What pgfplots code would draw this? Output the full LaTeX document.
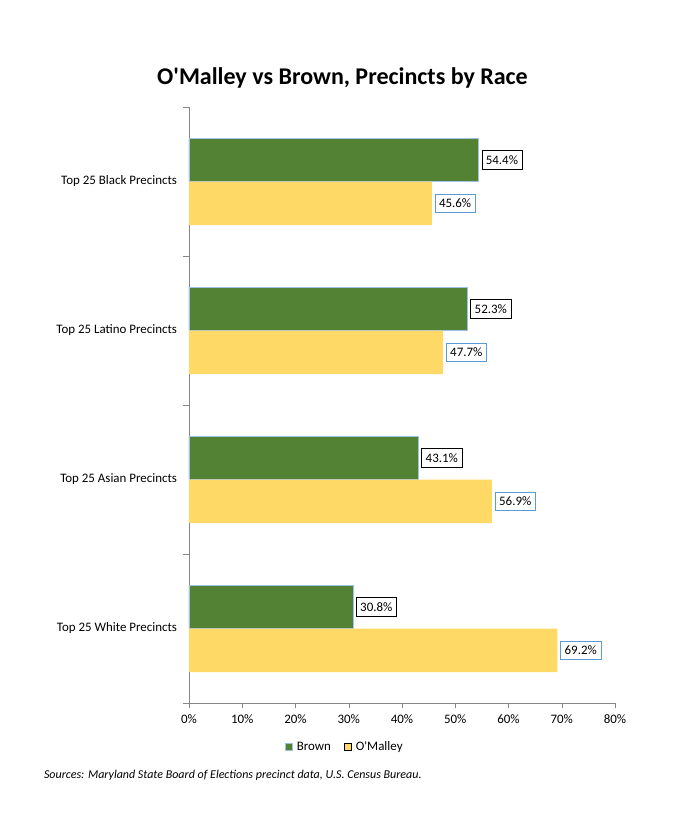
\documentclass[border=0pt]{standalone}
\usepackage{pgfplots}
\pgfplotsset{compat=1.18}
\usepackage{fontspec}
\setmainfont{Carlito}
\definecolor{bgreen}{HTML}{548235}
\definecolor{oyellow}{HTML}{FFD966}
\definecolor{edgeblue}{HTML}{9DC3E6}
\definecolor{lblblue}{HTML}{5B9BD5}
\definecolor{axgray}{HTML}{868686}
\begin{document}
\begin{tikzpicture}
\path[use as bounding box] (0,0) rectangle (521.25pt,624.75pt);
\node[font=\fontsize{18}{21}\selectfont\bfseries] at (256.875pt,566pt) {O\textquotesingle Malley vs Brown, Precincts by Race};
\node[anchor=west,font=\fontsize{9}{11}\selectfont\itshape] at (29.5pt,43.5pt) {Sources: Maryland State Board of Elections precinct data, U.S. Census Bureau.};
\begin{axis}[
  at={(141.75pt,97.5pt)}, anchor=south west,
  scale only axis, width=319.5pt, height=447pt,
  xbar, bar width=0.292,
  xmin=0, xmax=80,
  ymin=-0.5, ymax=3.5, y dir=reverse,
  axis lines=left, axis line style={-, draw=axgray},
  xtick={0,10,...,80},
  xticklabel={\pgfmathprintnumber{\tick}\%},
  /pgf/number format/assume math mode=true,
  ytick={0,1,2,3},
  yticklabels={Top 25 Black Precincts,Top 25 Latino Precincts,Top 25 Asian Precincts,Top 25 White Precincts},
  ytick style={draw=none},
  xtick style={draw=axgray},
  tick align=outside, major tick length=3.5pt,
  extra y ticks={-0.5,0.5,1.5,2.5,3.5},
  extra y tick labels={},
  extra y tick style={ytick style={draw=axgray}, major tick length=4.5pt, tick align=outside},
  ticklabel style={font=\fontsize{9.7}{11}\selectfont},
  yticklabel style={xshift=-2pt},
  xticklabel style={yshift=-2pt},
  nodes near coords={\pgfmathprintnumber[fixed,precision=1,fixed zerofill]{\pgfplotspointmeta}\%},
  nodes near coords style={font=\fontsize{9.7}{11}\selectfont, anchor=west, xshift=2.2pt, fill=white, inner xsep=3pt, inner ysep=3.6pt, /pgf/number format/assume math mode=true},
  point meta=explicit,
  legend columns=2,
  legend style={draw=none, at={(0.367,-0.0738)}, anchor=center, font=\fontsize{9.7}{11}\selectfont, /tikz/every odd column/.append style={column sep=1pt}, /tikz/every even column/.append style={column sep=8pt}},
  legend image code/.code={\draw[#1] (0pt,-2.6pt) rectangle (5.2pt,2.6pt);},
]
\addplot[fill=bgreen, draw=edgeblue, bar shift=-0.146, nodes near coords style={draw=black}] coordinates {(54.4,0) [54.4] (52.3,1) [52.3] (43.1,2) [43.1] (30.8,3) [30.8]};
\addlegendentry{Brown}
\addplot[fill=oyellow, draw=none, bar shift=0.146, nodes near coords style={draw=lblblue}] coordinates {(45.6,0) [45.6] (47.7,1) [47.7] (56.9,2) [56.9] (69.2,3) [69.2]};
\addlegendentry{O\textquotesingle Malley}
\end{axis}
\end{tikzpicture}
\end{document}
